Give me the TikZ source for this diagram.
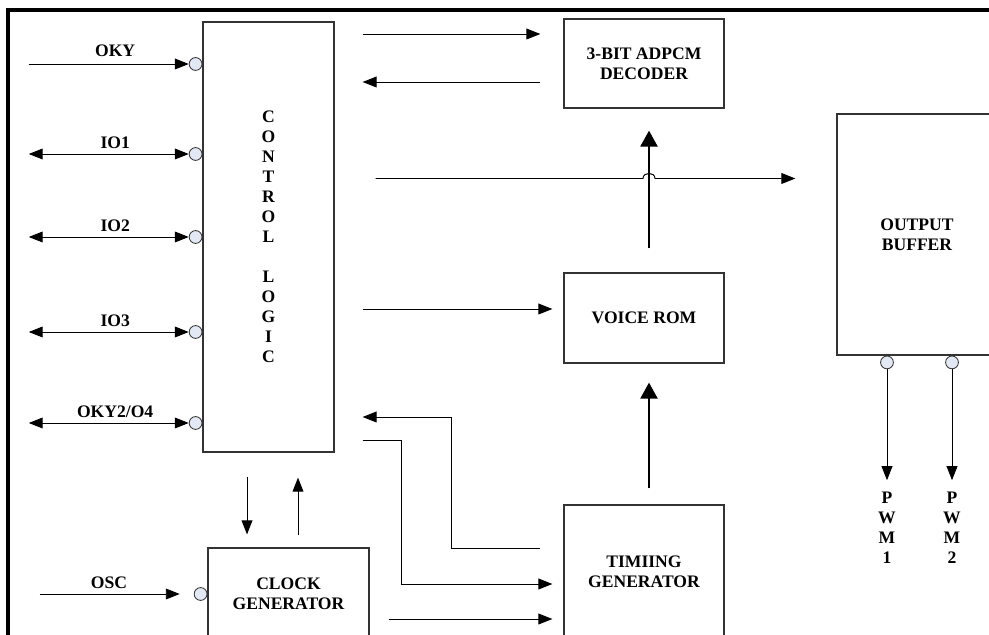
\documentclass[tikz,border=0pt]{standalone}
\usepackage{fontspec}
\setmainfont{Liberation Serif}
\usetikzlibrary{arrows.meta,positioning}
\definecolor{pinfill}{RGB}{226,232,244}

\begin{document}
\begin{tikzpicture}[x=0.025cm, y=-0.025cm,
		font=\fontsize{12.5}{14.2}\selectfont\bfseries,
		block/.style={draw=black!80, line width=0.8pt, align=center, inner sep=0pt},
		pin/.style={draw=black!80, circle, fill=pinfill, minimum size=0.32cm, inner sep=0pt, line width=0.6pt},
		sig/.style={-{Triangle[length=0.35cm, width=0.27cm]}, line width=0.7pt},
		io/.style={{Triangle[length=0.35cm, width=0.27cm]}-{Triangle[length=0.35cm, width=0.27cm]}, line width=0.7pt},
		bus/.style={-{Triangle[length=0.4cm, width=0.42cm]}, line width=2pt}]
		\useasboundingbox (0,0) rectangle (989,635);
		\draw[line width=2.2pt] (8,650) -- (8,10) -- (1000,10);
		
		\node (ctrl) [block, minimum width=3.275cm, minimum height=10.75cm] at (268.5,237) {C\\O\\N\\T\\R\\O\\L\\[14.2pt]L\\O\\G\\I\\C};
		\node (dec) [block, minimum width=4cm, minimum height=2.225cm] at (644,63.5) {3-BIT ADPCM\\DECODER};
		\node (rom) [block, minimum width=4cm, minimum height=2.25cm] at (644,318) {VOICE ROM};
		\node (tim) [block, minimum width=4cm, minimum height=3.35cm] at (644,572) {TIMIING\\GENERATOR};
		\node (clk) [block, minimum width=4.025cm, minimum height=2.3cm] at (288.5,594) {CLOCK\\GENERATOR};
		\node (buf) [block, minimum width=4cm, minimum height=6.025cm] at (917,234.5) {OUTPUT\\BUFFER};
		
		\node (oky) [pin, anchor=east] at (ctrl.west |- 0,64) {};
		\draw[sig] ([xshift=-4cm]oky.west) -- (oky.west) node (oky-lbl) [pos=0.54, above=1.5pt] {OKY};
		\foreach \y/\lbl/\nm in {154/IO1/io1, 237/IO2/io2, 332/IO3/io3, 423/{OKY2/O4}/oky2} {
			\node (\nm) [pin, anchor=east] at (ctrl.west |- 0,\y) {};
			\draw[io] ([xshift=-4cm]\nm.west) -- (\nm.west) node (\nm-lbl) [pos=0.54, above] {\lbl};
		}
		\node (osc) [pin, left=0pt of clk] {};
		\draw[sig, shorten >=0.35cm] ([xshift=-3.85cm]osc.west) -- (osc.west) node (osc-lbl) [pos=0.45, above] {OSC};
		
		\draw[sig, shorten <=0.7cm, shorten >=0.575cm] (ctrl.east |- 0,34) -- (dec.west |- 0,34);
		\draw[sig, shorten <=0.575cm, shorten >=0.7cm] (dec.west |- 0,82) -- (ctrl.east |- 0,82);
		\coordinate (hop) at (649,178.5);
		\draw[sig, shorten <=1.025cm, shorten >=1.025cm] (ctrl.east |- hop) -- ([xshift=-0.15cm]hop)
			.. controls ([xshift=-0.15cm, yshift=0.17cm]hop) and ([xshift=0.15cm, yshift=0.17cm]hop) .. ([xshift=0.15cm]hop) -- (buf.west |- hop);
		\draw[sig, shorten <=0.7cm, shorten >=0.275cm] (ctrl.east |- 0,309) -- (rom.west |- 0,309);
		\draw[bus, shorten <=0.6cm, shorten >=0.55cm] ([xshift=0.125cm]rom.north) -- ([xshift=0.125cm]dec.south);
		\draw[bus, shorten <=0.4cm, shorten >=0.475cm] ([xshift=0.125cm]tim.north) -- ([xshift=0.125cm]rom.south);
		
		\draw[sig, shorten <=0.575cm, shorten >=0.7cm] (tim.west |- 0,548) -| (451,417) -- (ctrl.east |- 0,417);
		\draw[sig, shorten <=0.7cm, shorten >=0.275cm] (ctrl.east |- 0,440) -| (401,584) -- (tim.west |- 0,584);
		\draw[sig, shorten <=0.475cm, shorten >=0.275cm] (clk.east |- 0,619) -- (tim.west |- 0,619);
		\draw[sig, shorten <=0.6cm, shorten >=0.325cm] (ctrl.south -| 247,0) -- (clk.north -| 247,0);
		\draw[sig, shorten <=0.3cm, shorten >=0.625cm] (clk.north -| 298,0) -- (ctrl.south -| 298,0);
		
		\node (pwm1) [pin, below=0pt of buf.south, xshift=-0.75cm] {};
		\node (pwm2) [pin, below=0pt of buf.south, xshift=0.875cm] {};
		\draw[sig] (pwm1.south) -- ++(0,111) node (pwm1-lbl) [below=5pt, align=center] {P\\W\\M\\1};
		\draw[sig] (pwm2.south) -- ++(0,111) node (pwm2-lbl) [below=5pt, align=center] {P\\W\\M\\2};
	\end{tikzpicture}
\end{document}
